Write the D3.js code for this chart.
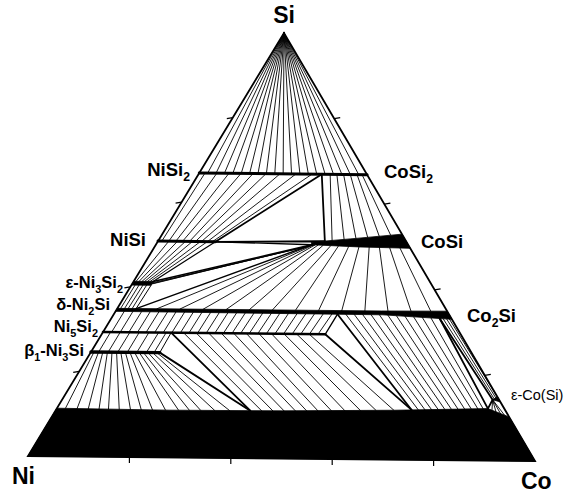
<!DOCTYPE html>
<html>
<head>
<meta charset="utf-8">
<script src="https://cdn.jsdelivr.net/npm/d3@7"></script>
<style>
  body { margin: 0; background: #fff; }
  text { font-family: "Liberation Sans", Arial, Helvetica, sans-serif; fill: #000; }
</style>
</head>
<body>
<svg id="chart" width="571" height="495"></svg>
<script>
// ---- Ni–Co–Si isothermal section: compositions are atomic fractions ----
// Positions along a silicide row use u = Co/(Co+Ni); s = Si fraction.

// Si content of the silicide rows
const siMSi2 = 0.669;      // (Ni,Co)Si2
const siNiSi = 0.508;      // NiSi
const siEpsTop = 0.413;    // ε-Ni3Si2 band
const siEpsBot = 0.404;
const siNi5Si2 = 0.293;    // Ni5Si2
const siBeta1 = 0.246;     // β1-Ni3Si

// Extent of Co solubility (u) in the Ni-rich phases
const uNiSiMax = 0.23;
const uEpsMax = 0.065;
const uNi5Si2Max = 0.62;
const uBeta1Max = 0.18;

// CoSi single-phase band (top and bottom boundary)
const cosiU = [0.615, 0.8, 1.0];
const cosiTop = [0.509, 0.519, 0.530];
const cosiBot = [0.503, 0.499, 0.497];

// (Ni,Co)2Si band
const m2siU = [0, 0.8, 1.0];
const m2siTop = [0.349, 0.349, 0.350];
const m2siBot = [0.342, 0.340, 0.331];

// fcc (Ni,Co) solid solution upper boundary
const fccU = [0, 0.25, 0.5, 0.75, 0.963, 1.0];
const fccS = [0.113, 0.111, 0.112, 0.116, 0.122, 0.103];

// hcp ε-Co(Si)
const hcpPoint = [0.985, 0.143];
const hcpEdge = [[1.0, 0.150], [1.0, 0.138]];

// Tie lines, one list per two-phase field
const tiesSi = [0.05, 0.10, 0.15, 0.20, 0.25, 0.30, 0.35, 0.40, 0.45, 0.50,
                0.55, 0.60, 0.65, 0.70, 0.75, 0.80, 0.85, 0.90, 0.95];
const tiesMSi2NiSi = [[0.034, 0.015], [0.105, 0.043], [0.177, 0.071], [0.249, 0.098],
                      [0.321, 0.126], [0.398, 0.150], [0.481, 0.174], [0.576, 0.198], [0.672, 0.218]];
const tiesMSi2CoSi = [[0.78, 0.70], [0.82, 0.75], [0.86, 0.80], [0.90, 0.85], [0.94, 0.90], [0.97, 0.95]];
const tiesNiSiCoSi = [0.655, 0.64, 0.627];
const tiesNiSiEps = [[0.043, 0.008], [0.078, 0.018], [0.110, 0.028], [0.138, 0.037],
                     [0.170, 0.046], [0.198, 0.055]];
const tiesEpsCoSi = [[0.410, 0.627], [0.408, 0.622], [0.407, 0.618]];
const tiesEpsM2Si = [[0.012, 0.010], [0.025, 0.022], [0.038, 0.033], [0.050, 0.045]];
const tiesCoSiM2Si = [[0.618, 0.12], [0.622, 0.19], [0.628, 0.26], [0.64, 0.33], [0.66, 0.40],
                      [0.69, 0.47], [0.72, 0.54], [0.76, 0.61], [0.80, 0.68], [0.84, 0.75],
                      [0.88, 0.82], [0.92, 0.89], [0.96, 0.95]];
const tiesM2SiNi5Si2 = [[0.026, 0.024], [0.052, 0.048], [0.078, 0.072], [0.104, 0.096], [0.130, 0.120],
                        [0.156, 0.144], [0.181, 0.168], [0.207, 0.192], [0.233, 0.216], [0.259, 0.240],
                        [0.285, 0.264], [0.311, 0.288], [0.337, 0.312], [0.363, 0.336], [0.389, 0.360],
                        [0.415, 0.384], [0.441, 0.408], [0.467, 0.432], [0.492, 0.456], [0.518, 0.480],
                        [0.544, 0.504], [0.570, 0.528], [0.596, 0.552], [0.622, 0.576], [0.648, 0.600]];
const tiesNi5Si2Beta1 = [[0.021, 0.020], [0.048, 0.045], [0.075, 0.070], [0.101, 0.095],
                         [0.128, 0.120], [0.155, 0.145], [0.176, 0.165]];
const tiesBeta1Fcc = [[0.008, 0.019], [0.020, 0.045], [0.031, 0.070], [0.043, 0.094], [0.055, 0.115],
                      [0.067, 0.139], [0.078, 0.164], [0.090, 0.188], [0.102, 0.213], [0.114, 0.242],
                      [0.126, 0.271], [0.137, 0.295], [0.149, 0.320], [0.161, 0.351], [0.172, 0.384]];
const tiesNi5Si2Fcc = [[0.225, 0.455], [0.260, 0.480], [0.295, 0.505], [0.330, 0.530], [0.365, 0.555],
                       [0.400, 0.580], [0.435, 0.610], [0.470, 0.640], [0.505, 0.675], [0.540, 0.710],
                       [0.575, 0.750]];
const tiesM2SiFcc = [[0.69, 0.805], [0.715, 0.820], [0.74, 0.835], [0.765, 0.850], [0.79, 0.865],
                     [0.815, 0.880], [0.84, 0.895], [0.865, 0.910], [0.89, 0.925], [0.915, 0.940],
                     [0.94, 0.952]];
const tiesCo2SiHcp = [[0.975, 0.990, 0.145], [0.985, 0.995, 0.147], [0.993, 1.0, 0.149]];
const tiesHcpFcc = [[0.970, 0.118], [0.977, 0.114], [0.985, 0.110], [0.992, 0.107]];

// three-phase triangle corners (u of each phase)
const tri1 = {msi2: 0.73, nisi: uNiSiMax, cosi: 0.67};
const tri2 = {nisi: uNiSiMax, eps: uEpsMax, cosi: 0.615};
const tri3 = {eps: uEpsMax, m2si: 0.057, cosi: 0.615};
const tri4 = {beta1: uBeta1Max, ni5si2: 0.19, fcc: 0.43};
const tri5 = {ni5si2: uNi5Si2Max, m2si: 0.665, fcc: 0.79};
const tri6 = {m2si: 0.965, fcc: 0.963};

const tickFractions = [0.2, 0.4, 0.6, 0.8];

// ---- projection ----
const apex = [284, 33];
const baseX = d3.scaleLinear().domain([0, 1]).range([28, 535]);
const baseY = d3.scaleLinear().domain([0, 1]).range([456, 461]);
function pt(u, s) {
  const bx = baseX(u), by = baseY(u);
  return [bx + (apex[0] - bx) * s, by + (apex[1] - by) * s];
}
const sCoSiTop = d3.scaleLinear().domain(cosiU).range(cosiTop).clamp(true);
const sCoSiBot = d3.scaleLinear().domain(cosiU).range(cosiBot).clamp(true);
const sM2SiTop = d3.scaleLinear().domain(m2siU).range(m2siTop);
const sM2SiBot = d3.scaleLinear().domain(m2siU).range(m2siBot);
const sFcc = d3.scaleLinear().domain(fccU.slice(0, 5)).range(fccS.slice(0, 5));

const svg = d3.select("#chart");
const gTies = svg.append("g");
const gPhase = svg.append("g");
const gFrame = svg.append("g");

function seg(g, a, b, w) {
  const p = pt(a[0], a[1]), q = pt(b[0], b[1]);
  g.append("line")
    .attr("x1", p[0]).attr("y1", p[1]).attr("x2", q[0]).attr("y2", q[1])
    .attr("stroke", "#000").attr("stroke-width", w).attr("stroke-linecap", "round");
}
const lineGen = d3.line().x(d => pt(d[0], d[1])[0]).y(d => pt(d[0], d[1])[1]);
function poly(g, pts) {
  g.append("path").attr("d", lineGen(pts) + "Z").attr("fill", "#000")
    .attr("stroke", "#000").attr("stroke-width", 0.8).attr("stroke-linejoin", "round");
}

const thin = 0.9, edge = 1.8;

// Si + (Ni,Co)Si2
tiesSi.forEach(u => seg(gTies, [0, 1], [u, siMSi2], thin));
// MSi2 + NiSi
tiesMSi2NiSi.forEach(([a, b]) => seg(gTies, [a, siMSi2], [b, siNiSi], thin));
// MSi2 + CoSi
tiesMSi2CoSi.forEach(([a, b]) => seg(gTies, [a, siMSi2], [b, sCoSiTop(b)], thin));
// NiSi + CoSi
tiesNiSiCoSi.forEach(b => seg(gTies, [uNiSiMax, siNiSi], [b, sCoSiTop(b)], thin));
// NiSi + ε
tiesNiSiEps.forEach(([a, b]) => seg(gTies, [a, siNiSi], [b, siEpsTop], thin));
// ε + CoSi
tiesEpsCoSi.forEach(([s, b]) => seg(gTies, [uEpsMax, s], [b, sCoSiBot(b)], thin));
// ε + M2Si
tiesEpsM2Si.forEach(([a, b]) => seg(gTies, [a, siEpsBot], [b, sM2SiTop(b)], thin));
// CoSi + M2Si
tiesCoSiM2Si.forEach(([a, b]) => seg(gTies, [a, sCoSiBot(a)], [b, sM2SiTop(b)], thin));
// M2Si + Ni5Si2
tiesM2SiNi5Si2.forEach(([a, b]) => seg(gTies, [a, sM2SiBot(a)], [b, siNi5Si2], thin));
// Ni5Si2 + β1
tiesNi5Si2Beta1.forEach(([a, b]) => seg(gTies, [a, siNi5Si2], [b, siBeta1], thin));
// β1 + fcc
tiesBeta1Fcc.forEach(([a, b]) => seg(gTies, [a, siBeta1], [b, sFcc(b)], thin));
// Ni5Si2 + fcc
tiesNi5Si2Fcc.forEach(([a, b]) => seg(gTies, [a, siNi5Si2], [b, sFcc(b)], thin));
// M2Si + fcc
tiesM2SiFcc.forEach(([a, b]) => seg(gTies, [a, sM2SiBot(a)], [b, sFcc(b)], thin));
// Co2Si + hcp
tiesCo2SiHcp.forEach(([a, b, s]) => seg(gTies, [a, sM2SiBot(a)], [b, s], thin));
// hcp + fcc
tiesHcpFcc.forEach(p => seg(gTies, hcpPoint, p, thin));

// three-phase triangles
seg(gTies, [tri1.msi2, siMSi2], [tri1.nisi, siNiSi], edge);
seg(gTies, [tri1.msi2, siMSi2], [tri1.cosi, sCoSiTop(tri1.cosi)], edge);
seg(gTies, [tri1.nisi, siNiSi], [tri1.cosi, sCoSiTop(tri1.cosi)], 1.4);
seg(gTies, [tri2.nisi, siNiSi], [tri2.cosi, sCoSiBot(tri2.cosi)], 1.4);
seg(gTies, [tri2.nisi, siNiSi], [tri2.eps, siEpsTop], 1.2);
seg(gTies, [tri2.eps, siEpsTop], [tri2.cosi, sCoSiBot(tri2.cosi)], 1.4);
seg(gTies, [tri3.eps, siEpsBot], [tri3.m2si, sM2SiTop(tri3.m2si)], 1.0);
seg(gTies, [tri3.m2si, sM2SiTop(tri3.m2si)], [tri3.cosi, sCoSiBot(tri3.cosi)], 1.4);
seg(gTies, [tri4.beta1, siBeta1], [tri4.ni5si2, siNi5Si2], 1.0);
seg(gTies, [tri4.beta1, siBeta1], [tri4.fcc, sFcc(tri4.fcc)], edge);
seg(gTies, [tri4.ni5si2, siNi5Si2], [tri4.fcc, sFcc(tri4.fcc)], edge);
seg(gTies, [tri5.ni5si2, siNi5Si2], [tri5.m2si, sM2SiBot(tri5.m2si)], 1.4);
seg(gTies, [tri5.ni5si2, siNi5Si2], [tri5.fcc, sFcc(tri5.fcc)], edge);
seg(gTies, [tri5.m2si, sM2SiBot(tri5.m2si)], [tri5.fcc, sFcc(tri5.fcc)], edge);
seg(gTies, [tri6.m2si, sM2SiBot(tri6.m2si)], [tri6.fcc, sFcc(tri6.fcc)], edge);
seg(gTies, [tri6.m2si, sM2SiBot(tri6.m2si)], hcpPoint, edge);
seg(gTies, [tri6.fcc, sFcc(tri6.fcc)], hcpPoint, edge);

// single-phase rows and fields
seg(gPhase, [0, siMSi2], [1, siMSi2], 3);
seg(gPhase, [0, siNiSi], [uNiSiMax, siNiSi], 3);
poly(gPhase, [[0, siEpsTop], [uEpsMax, siEpsTop], [uEpsMax, siEpsBot], [0, siEpsBot]]);
poly(gPhase, cosiU.map((u, i) => [u, cosiTop[i]]).concat(cosiU.map((u, i) => [u, cosiBot[i]]).reverse()));
poly(gPhase, m2siU.map((u, i) => [u, m2siTop[i]]).concat(m2siU.map((u, i) => [u, m2siBot[i]]).reverse()));
seg(gPhase, [0, siNi5Si2], [uNi5Si2Max, siNi5Si2], 2.6);
seg(gPhase, [0, siBeta1], [uBeta1Max, siBeta1], 3.4);
poly(gPhase, fccU.map((u, i) => [u, fccS[i]]).concat([[1, 0], [0, 0]]));
poly(gPhase, [hcpPoint, hcpEdge[0], hcpEdge[1]]);

// triangle frame
const cNi = pt(0, 0), cCo = pt(1, 0), cSi = pt(0, 1);
gFrame.append("path")
  .attr("d", `M${cNi}L${cCo}L${cSi}Z`)
  .attr("fill", "none").attr("stroke", "#000").attr("stroke-width", 1.8).attr("stroke-linejoin", "miter");

// ticks every 20 at.%
tickFractions.forEach(t => {
  const b = pt(t, 0);
  gFrame.append("line").attr("x1", b[0]).attr("y1", b[1]).attr("x2", b[0]).attr("y2", b[1] + 6)
    .attr("stroke", "#000").attr("stroke-width", 1.2);
  const l = pt(0, 1 - t);
  gFrame.append("line").attr("x1", l[0]).attr("y1", l[1]).attr("x2", l[0] - 6).attr("y2", l[1] + 1)
    .attr("stroke", "#000").attr("stroke-width", 1.2);
  const r = pt(1, 1 - t);
  gFrame.append("line").attr("x1", r[0]).attr("y1", r[1]).attr("x2", r[0] + 6).attr("y2", r[1] - 1)
    .attr("stroke", "#000").attr("stroke-width", 1.2);
});

// labels: [text parts, x, y, size, weight, anchor]; parts alternate normal/subscript
const labels = [
  [["Si"], 284, 23, 23, "bold", "middle"],
  [["Ni"], 12, 484, 23, "bold", "start"],
  [["Co"], 521, 489, 23, "bold", "start"],
  [["NiSi", "2"], 190, 176, 18.5, "bold", "end"],
  [["NiSi"], 146, 246, 18.5, "bold", "end"],
  [["CoSi", "2"], 384, 178, 18.5, "bold", "start"],
  [["CoSi"], 421, 248, 18.5, "bold", "start"],
  [["ε-Ni", "3", "Si", "2"], 123, 288, 16.5, "bold", "end"],
  [["δ-Ni", "2", "Si"], 110, 310, 16.5, "bold", "end"],
  [["Ni", "5", "Si", "2"], 98, 332, 16.5, "bold", "end"],
  [["β", "1", "-Ni", "3", "Si"], 84, 356, 16.5, "bold", "end"],
  [["Co", "2", "Si"], 467, 322, 18.5, "bold", "start"],
  [["ε-Co(Si)"], 511, 400, 14.5, "normal", "start"]
];
labels.forEach(([parts, x, y, size, weight, anchor]) => {
  const t = svg.append("text").attr("x", x).attr("y", y)
    .attr("font-size", size).attr("font-weight", weight).attr("text-anchor", anchor);
  parts.forEach((p, i) => {
    const sub = i % 2 === 1;
    t.append("tspan").text(p)
      .attr("font-size", sub ? size * 0.66 : size)
      .attr("dy", sub ? size * 0.28 : (i > 0 ? -size * 0.28 : 0));
  });
});
</script>
</body>
</html>
